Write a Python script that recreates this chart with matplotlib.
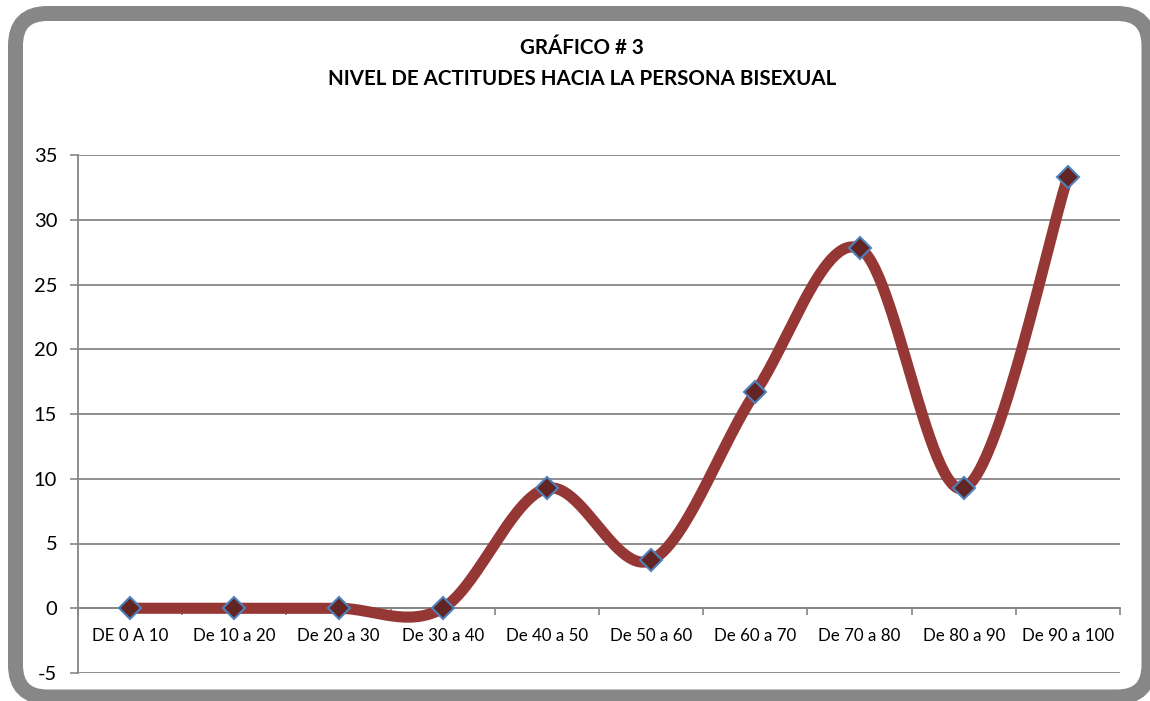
import numpy as np
import matplotlib
matplotlib.use("Agg")
import matplotlib.pyplot as plt
from matplotlib.patches import FancyBboxPatch

plt.rcParams['font.family'] = ['Lato', 'DejaVu Sans']

categories = ["DE 0 A 10", "De 10 a 20", "De 20 a 30", "De 30 a 40", "De 40 a 50",
              "De 50 a 60", "De 60 a 70", "De 70 a 80", "De 80 a 90", "De 90 a 100"]
values = [0, 0, 0, 0, 9.26, 3.70, 16.67, 27.78, 9.26, 33.33]
title_lines = ["GRÁFICO # 3", "NIVEL DE ACTITUDES HACIA LA PERSONA BISEXUAL"]
yticks = [-5, 0, 5, 10, 15, 20, 25, 30, 35]

W, H = 1150, 701
fig = plt.figure(figsize=(W / 100, H / 100), dpi=100)

# background frame
bg = fig.add_axes([0, 0, 1, 1])
bg.set_xlim(0, W)
bg.set_ylim(H, 0)
bg.axis('off')
frame = FancyBboxPatch((15.5, 13.5), 1149 - 15.5, 697 - 13.5,
                       boxstyle="round,pad=0,rounding_size=32",
                       facecolor='white', edgecolor='#878787', linewidth=10.8)
bg.add_patch(frame)

# title
fig.text(582 / W, 1 - 48 / H, title_lines[0], ha='center', va='center',
         fontsize=14.8, fontweight='bold')
fig.text(582 / W, 1 - 79 / H, title_lines[1], ha='center', va='center',
         fontsize=14.8, fontweight='bold')

left, right, top, bottom = 78, 1120, 155, 673
ax = fig.add_axes([left / W, 1 - bottom / H, (right - left) / W, (bottom - top) / H])
ax.set_facecolor('none')

x = np.arange(len(values), dtype=float)
y = np.array(values, dtype=float)

# Excel-like smoothing (Catmull-Rom via cubic Bezier)
P = np.column_stack([x, y])
Pext = np.vstack([P[0], P, P[-1]])
curve = []
t = np.linspace(0, 1, 60)[:, None]
for i in range(len(P) - 1):
    p0, p1, p2, p3 = Pext[i], Pext[i + 1], Pext[i + 2], Pext[i + 3]
    b1 = p1 + (p2 - p0) / 6
    b2 = p2 - (p3 - p1) / 6
    seg = ((1 - t) ** 3) * p1 + 3 * ((1 - t) ** 2) * t * b1 + 3 * (1 - t) * t ** 2 * b2 + t ** 3 * p2
    curve.append(seg)
curve = np.vstack(curve)

ax.plot(curve[:, 0], curve[:, 1], color='#953735', linewidth=8,
        solid_capstyle='round', zorder=3)
ax.plot(x, y, linestyle='none', marker='D', markersize=11,
        markerfacecolor='#632523', markeredgecolor='#4F81BD', markeredgewidth=1.5, zorder=4)

ax.set_xlim(-0.5, len(values) - 0.5)
ax.set_ylim(-5, 35)
ax.set_yticks(yticks)
ax.set_yticklabels([str(v) for v in yticks])
ax.set_xticks(x)
ax.set_xticklabels(categories)
ax.set_xticks(np.arange(-0.5, len(values)), minor=True)
ax.tick_params(axis='x', which='major', length=0, pad=14, labelsize=12.2)
ax.tick_params(axis='x', which='minor', length=5, width=1.2, color='#868686', direction='out')
ax.tick_params(axis='y', length=6, width=1.2, color='#868686', pad=9, labelsize=14.5)

ax.yaxis.grid(True, color='#868686', linewidth=1.3)
ax.set_axisbelow(True)
for s in ['top', 'right']:
    ax.spines[s].set_visible(False)
ax.spines['bottom'].set_position(('data', 0))
ax.spines['bottom'].set_color('#868686')
ax.spines['bottom'].set_linewidth(1.3)
ax.spines['left'].set_color('#868686')
ax.spines['left'].set_linewidth(1.3)

fig.savefig("out.png", dpi=100)
